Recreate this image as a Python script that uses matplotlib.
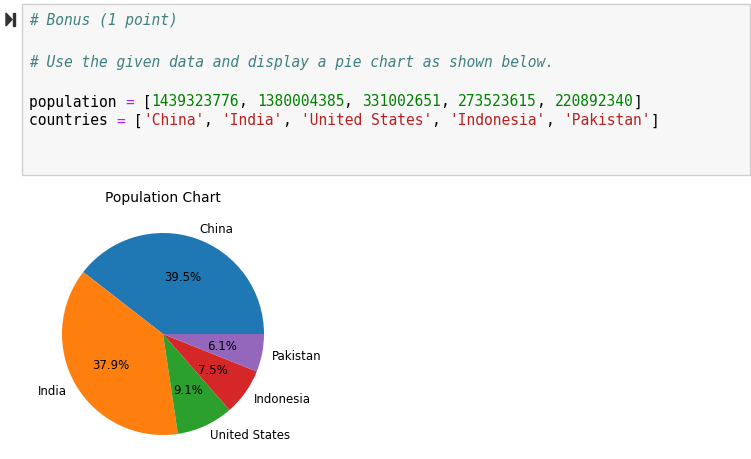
import matplotlib.pyplot as plt
from matplotlib.patches import Rectangle, Polygon

population = [1439323776, 1380004385, 331002651, 273523615, 220892340]
countries = ['China', 'India', 'United States', 'Indonesia', 'Pakistan']

W, H = 751, 460
fig = plt.figure(figsize=(W / 100, H / 100), dpi=100)

# code cell box
fig.patches.append(Rectangle((22 / W, 1 - 176 / H), 728 / W, 171 / H,
                             transform=fig.transFigure, facecolor='#f7f7f7',
                             edgecolor='#cfcfcf', lw=1))
# run marker
fig.patches.append(Polygon([(6 / W, 1 - 14 / H), (6 / W, 1 - 27 / H), (12 / W, 1 - 20.5 / H)],
                           closed=True, transform=fig.transFigure, color='#333333'))
fig.patches.append(Rectangle((13 / W, 1 - 27 / H), 2 / W, 13 / H,
                             transform=fig.transFigure, color='#333333'))

charw = 8.76
x0 = 29
k_comment, k_plain, k_op, k_num, k_str = '#408080', '#000000', '#aa22ff', '#008000', '#ba2121'


def code_line(y, parts):
    col = 0
    for text, color in parts:
        italic = color == k_comment
        fig.text((x0 + col * charw) / W, 1 - y / H, text, family='DejaVu Sans Mono',
                 fontsize=10.5, color=color, style='italic' if italic else 'normal',
                 va='center', ha='left')
        col += len(text)


code_line(21, [('# Bonus (1 point)', k_comment)])
code_line(62, [('# Use the given data and display a pie chart as shown below.', k_comment)])
pop_parts = [('population ', k_plain), ('=', k_op), (' [', k_plain)]
for i, p in enumerate(population):
    pop_parts.append((str(p), k_num))
    pop_parts.append((', ' if i < len(population) - 1 else ']', k_plain))
code_line(102, pop_parts)
c_parts = [('countries ', k_plain), ('=', k_op), (' [', k_plain)]
for i, c in enumerate(countries):
    c_parts.append(("'%s'" % c, k_str))
    c_parts.append((', ' if i < len(countries) - 1 else ']', k_plain))
code_line(121, c_parts)

# pie chart
cx, cy, r = 163, 335, 101
half = r * 1.25
ax = fig.add_axes([(cx - half) / W, (H - cy - half) / H, 2 * half / W, 2 * half / H])
ax.pie(population, labels=countries, autopct='%.1f%%',
       textprops={'fontsize': 8.5})
ax.set_xlim(-1.25, 1.25)
ax.set_ylim(-1.25, 1.25)
ax.set_aspect('equal')
fig.text(cx / W, 1 - 198 / H, 'Population Chart', ha='center', va='center', fontsize=10)

fig.savefig('out.png', dpi=100)
